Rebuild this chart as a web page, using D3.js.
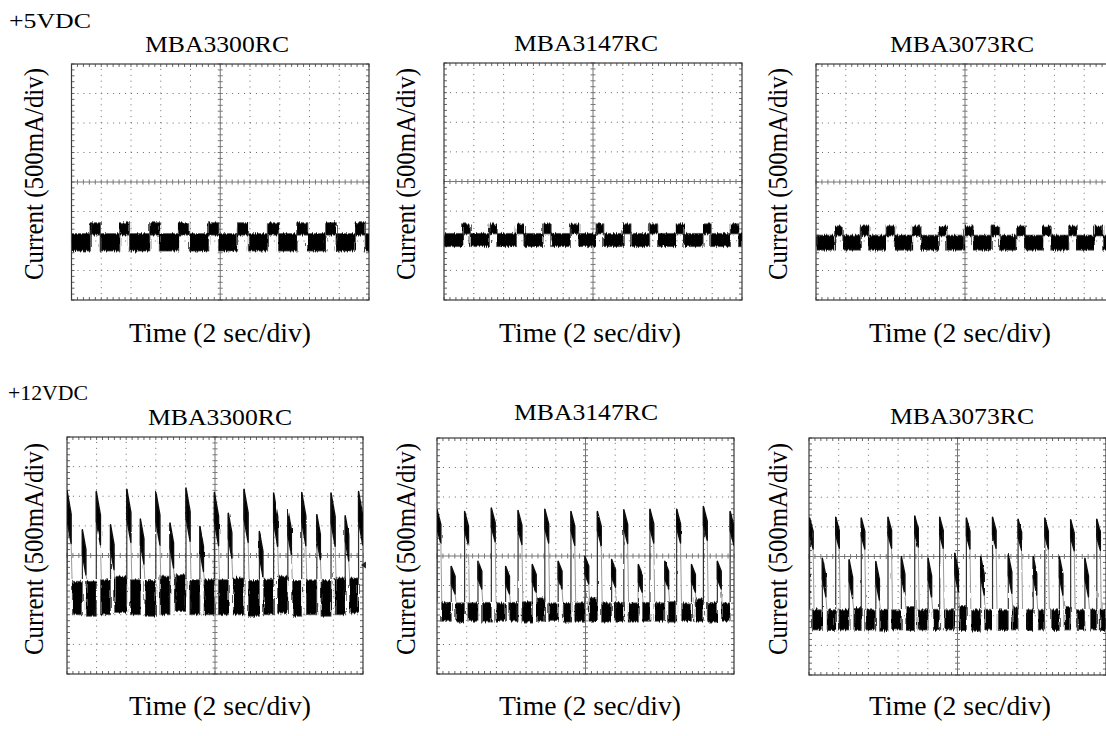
<!DOCTYPE html>
<html><head><meta charset="utf-8">
<script src="https://cdn.jsdelivr.net/npm/d3@7"></script>
<style>
body{margin:0;background:#fff}
svg{display:block}
text{font-family:"Liberation Serif","Times New Roman",serif;fill:#000}
</style>
</head><body>
<svg id="c" width="1106" height="736"></svg>
<script>
// ---------------- DATA ----------------
const supplies = ["+5VDC", "+12VDC"];
const models = ["MBA3300RC", "MBA3147RC", "MBA3073RC"];
const xLabel = "Time (2 sec/div)";
const yLabel = "Current (500mA/div)";
const xDivs = 10, yDivs = 8; // 2 s/div, 500 mA/div

// +5VDC traces (time in div, level in div above bottom graticule)
const v5_3300_highStart = [0.62,1.61,2.62,3.59,4.60,5.57,6.58,7.57,8.54,9.53];
const v5_3300_highEnd   = [0.96,1.94,2.95,3.96,4.94,5.94,6.95,7.93,8.89,9.87];
const v5_3300_low  = [1.66, 2.25];
const v5_3300_high = [2.20, 2.62];

const v5_3147_highStart = [0.62,1.51,2.42,3.31,4.23,5.10,6.00,6.89,7.79,8.68,9.60];
const v5_3147_highEnd   = [0.87,1.77,2.68,3.58,4.51,5.35,6.26,7.16,8.05,8.95,9.88];
const v5_3147_low  = [1.80, 2.25];
const v5_3147_high = [2.23, 2.57];

const v5_3073_highStart = [0.62,1.48,2.35,3.23,4.10,4.98,5.87,6.73,7.60,8.47,9.33];
const v5_3073_highEnd   = [0.90,1.76,2.63,3.51,4.38,5.26,6.15,7.01,7.88,8.75,9.61];
const v5_3073_low  = [1.69, 2.20];
const v5_3073_high = [2.17, 2.51];

// +12VDC traces
const v12_3300_tallT    = [0.00,0.99,2.02,3.00,4.02,4.98,5.98,6.98,7.93,8.92,9.85];
const v12_3300_tallPeak = [6.20,6.16,6.24,6.16,6.28,6.13,6.24,6.11,6.13,6.11,6.16];
const v12_3300_secT     = [0.52,1.47,2.48,3.48,4.49,5.45,6.50,7.46,8.44,9.40];
const v12_3300_secPeak  = [4.87,5.04,5.23,5.10,4.98,5.43,4.81,5.55,5.38,5.34];
const v12_3300_bandStart = [0.18,0.65,1.13,1.61,2.14,2.63,3.14,3.65,4.15,4.63,5.11,5.62,6.13,6.64,7.11,7.62,8.08,8.58,9.06,9.55];
const v12_3300_bandEnd   = [0.52,0.99,1.47,2.02,2.48,3.00,3.48,4.02,4.49,4.98,5.45,5.98,6.50,6.98,7.46,7.93,8.44,8.92,9.40,9.85];
const v12_3300_bandTop   = [3.13,3.13,3.18,3.30,3.18,3.16,3.30,3.35,3.18,3.18,3.18,3.24,3.16,3.20,3.30,3.16,3.18,3.16,3.24,3.24];
const v12_3300_bandBot   = [2.00,1.95,2.00,2.08,2.00,1.95,2.00,2.11,2.00,2.00,2.00,2.00,1.95,2.00,2.06,1.95,2.00,1.95,2.00,2.06];

const v12_3147_tallT    = [0.00,0.93,1.83,2.73,3.63,4.51,5.40,6.29,7.17,8.07,8.97,9.87];
const v12_3147_tallPeak = [5.57,5.51,5.63,5.54,5.59,5.51,5.51,5.57,5.59,5.59,5.68,5.51];
const v12_3147_secT     = [0.48,1.38,2.31,3.21,4.08,4.98,5.88,6.78,7.67,8.57,9.44];
const v12_3147_secPeak  = [3.65,3.82,3.65,3.71,3.82,3.99,3.88,3.71,3.82,3.71,3.82];
const v12_3147_bandStart = [0.15,0.63,1.04,1.53,1.98,2.45,2.86,3.35,3.76,4.25,4.64,5.12,5.54,5.99,6.44,6.92,7.34,7.79,8.24,8.69,9.10,9.58];
const v12_3147_bandEnd   = [0.48,0.93,1.38,1.83,2.31,2.73,3.21,3.63,4.08,4.51,4.98,5.40,5.88,6.29,6.78,7.17,7.67,8.07,8.57,8.97,9.44,9.87];
const v12_3147_bandTop   = [2.43,2.41,2.41,2.43,2.41,2.43,2.45,2.58,2.41,2.43,2.41,2.58,2.41,2.43,2.41,2.43,2.41,2.45,2.41,2.55,2.43,2.41];
const v12_3147_bandBot   = [1.79,1.76,1.79,1.76,1.79,1.79,1.76,1.79,1.82,1.76,1.79,1.79,1.76,1.79,1.76,1.79,1.79,1.76,1.79,1.79,1.76,1.79];

const v12_3073_tallT    = [0.02,0.90,1.76,2.66,3.56,4.40,5.30,6.18,7.04,7.94,8.81,9.69];
const v12_3073_tallPeak = [5.30,5.33,5.30,5.33,5.37,5.33,5.30,5.33,5.26,5.30,5.24,5.26];
const v12_3073_secT     = [0.45,1.35,2.25,3.11,4.01,4.91,5.78,6.71,7.55,8.43,9.29];
const v12_3073_secPeak  = [3.94,3.89,3.83,4.00,3.94,4.11,4.00,4.06,4.00,4.00,3.94];
const v12_3073_bandStart = [0.11,0.61,1.01,1.51,1.91,2.38,2.78,3.26,3.67,4.18,4.57,5.06,5.47,5.92,6.37,6.85,7.33,7.72,8.17,8.62,9.03,9.48,9.80];
const v12_3073_bandEnd   = [0.45,0.90,1.35,1.76,2.25,2.66,3.11,3.56,4.01,4.40,4.91,5.30,5.78,6.18,6.71,7.04,7.55,7.94,8.43,8.81,9.29,9.69,10.0];
const v12_3073_bandTop   = [2.20,2.20,2.22,2.28,2.20,2.22,2.20,2.31,2.20,2.22,2.20,2.31,2.20,2.22,2.20,2.30,2.20,2.22,2.20,2.31,2.20,2.22,2.20];
const v12_3073_bandBot   = [1.52,1.50,1.52,1.50,1.52,1.48,1.52,1.50,1.52,1.50,1.52,1.50,1.48,1.52,1.50,1.52,1.50,1.52,1.50,1.52,1.50,1.52,1.50];

// spike shapes per trace: [duration, drop, thickness] in div
const v12_3300_tallShape = [0.14, 0.80, 1.00], v12_3300_secShape = [0.12, 0.67, 0.85];
const v12_3147_tallShape = [0.13, 0.50, 0.65], v12_3147_secShape = [0.13, 0.34, 0.60];
const v12_3073_tallShape = [0.12, 0.45, 0.60], v12_3073_secShape = [0.12, 0.60, 0.70];

// ---------------- LAYOUT ----------------
const panels = [
  {left:71.5, right:369, top:64, bottom:300},
  {left:444, right:742, top:63, bottom:300},
  {left:816, right:1114, top:64, bottom:300},
  {left:67, right:363, top:437, bottom:674},
  {left:437, right:734, top:438, bottom:674},
  {left:809, right:1106, top:438, bottom:675}
];

const svg = d3.select("#c");
const defs = svg.append("defs");
function addNoise(id, freq, scale, seed) {
  const f = defs.append("filter").attr("id", id)
    .attr("x","-5%").attr("y","-20%").attr("width","110%").attr("height","140%");
  f.append("feTurbulence").attr("type","fractalNoise").attr("baseFrequency", freq)
    .attr("numOctaves",2).attr("seed",seed).attr("result","t");
  f.append("feDisplacementMap").attr("in","SourceGraphic").attr("in2","t")
    .attr("scale",scale).attr("xChannelSelector","R").attr("yChannelSelector","G");
}
addNoise("noise", "0.9 0.06", 5, 4);
addNoise("noise2", "0.5 0.05", 2, 7);

function drawGrid(p, i) {
  const x = d3.scaleLinear().domain([0, xDivs]).range([p.left, p.right]);
  const y = d3.scaleLinear().domain([0, yDivs]).range([p.bottom, p.top]);
  const g = svg.append("g");
  const dx = x(0.2) - x(0), dy = y(0) - y(0.2);
  d3.range(1, xDivs).filter(k => k !== xDivs/2).forEach(k => {
    g.append("line").attr("x1", x(k)).attr("x2", x(k)).attr("y1", y(0)).attr("y2", y(yDivs))
      .attr("stroke","#6a6a6a").attr("stroke-width",1).attr("stroke-dasharray",`1 ${dy-1}`);
  });
  d3.range(1, yDivs).filter(k => k !== yDivs/2).forEach(k => {
    g.append("line").attr("y1", y(k)).attr("y2", y(k)).attr("x1", x(0)).attr("x2", x(xDivs))
      .attr("stroke","#6a6a6a").attr("stroke-width",1).attr("stroke-dasharray",`1 ${dx-1}`);
  });
  g.append("line").attr("x1", x(xDivs/2)).attr("x2", x(xDivs/2)).attr("y1", y(0)).attr("y2", y(yDivs))
    .attr("stroke","#777").attr("stroke-width",1);
  g.append("line").attr("y1", y(yDivs/2)).attr("y2", y(yDivs/2)).attr("x1", x(0)).attr("x2", x(xDivs))
    .attr("stroke","#777").attr("stroke-width",1);
  d3.range(0, yDivs*5+1).forEach(k => {
    const yy = y(k/5);
    g.append("line").attr("x1", x(xDivs/2)-2.5).attr("x2", x(xDivs/2)+2.5).attr("y1", yy).attr("y2", yy).attr("stroke","#777");
    g.append("line").attr("x1", x(0)).attr("x2", x(0)+3).attr("y1", yy).attr("y2", yy).attr("stroke","#666");
    g.append("line").attr("x1", x(xDivs)-3).attr("x2", x(xDivs)).attr("y1", yy).attr("y2", yy).attr("stroke","#666");
  });
  d3.range(0, xDivs*5+1).forEach(k => {
    const xx = x(k/5);
    g.append("line").attr("y1", y(yDivs/2)-2.5).attr("y2", y(yDivs/2)+2.5).attr("x1", xx).attr("x2", xx).attr("stroke","#777");
    g.append("line").attr("y1", y(0)).attr("y2", y(0)-3).attr("x1", xx).attr("x2", xx).attr("stroke","#666");
    g.append("line").attr("y1", y(yDivs)).attr("y2", y(yDivs)+3).attr("x1", xx).attr("x2", xx).attr("stroke","#666");
  });
  g.append("rect").attr("x", x(0)).attr("y", y(yDivs)).attr("width", x(xDivs)-x(0)).attr("height", y(0)-y(yDivs))
    .attr("fill","none").attr("stroke","#3a3a3a").attr("stroke-width",1.2);
  defs.append("clipPath").attr("id","clip"+i).append("rect")
    .attr("x", x(0)).attr("y", y(yDivs)).attr("width", x(xDivs)-x(0)).attr("height", y(0)-y(yDivs));
  const cg = svg.append("g").attr("clip-path", `url(#clip${i})`);
  const tg = cg.append("g").attr("filter","url(#noise)");
  const sg = cg.append("g").attr("filter","url(#noise2)");
  return {x, y, tg, sg};
}

function draw5V(ctx, hs, he, low, high) {
  const {x, y, tg} = ctx;
  const segs = [];
  let t = 0;
  hs.forEach((s, k) => {
    segs.push([t, s, low[0], low[1]]);
    segs.push([s, he[k], high[0], high[1]]);
    t = he[k];
  });
  segs.push([t, xDivs, low[0], low[1]]);
  tg.selectAll(null).data(segs).join("rect")
    .attr("x", d => x(d[0])).attr("width", d => x(d[1]) - x(d[0]) + 0.5)
    .attr("y", d => y(d[3])).attr("height", d => y(d[2]) - y(d[3]))
    .attr("fill","#000").attr("stroke","#555").attr("stroke-width",0.8);
}

function draw12V(ctx, tallT, tallPk, secT, secPk, bs, be, bt, bb, tallShape, secShape) {
  const {x, y, tg, sg} = ctx;
  const segs = bs.map((s, k) => [s, be[k], bb[k], bt[k]]);
  tg.selectAll(null).data(segs).join("rect")
    .attr("x", d => x(d[0])).attr("width", d => x(d[1]) - x(d[0]))
    .attr("y", d => y(d[3])).attr("height", d => y(d[2]) - y(d[3]))
    .attr("fill","#000").attr("stroke","#555").attr("stroke-width",0.8);
  const base = d3.mean(bt);
  const line = d3.line().x(d => x(d[0])).y(d => y(d[1]));
  function spikes(ts, pks, shape) {
    const [dur, drop, th] = shape;
    ts.forEach((t, k) => {
      const pk = pks[k];
      sg.append("path").attr("d", line([[t, base], [t, pk]])).attr("stroke","#333").attr("stroke-width",1.2);
      sg.append("path").attr("d", line([[t + dur, pk - drop - th], [t + dur + 0.03, base]])).attr("stroke","#999").attr("stroke-width",1);
      const pts = [[t, pk], [t + dur, pk - drop], [t + dur, pk - drop - th], [t, pk - th]];
      sg.append("path").attr("d", line(pts) + "Z").attr("fill","#000").attr("stroke","#111")
        .attr("stroke-width",1.4).attr("stroke-linejoin","round");
    });
  }
  spikes(tallT, tallPk, tallShape);
  spikes(secT, secPk, secShape);
}

const ctxs = panels.map((p, i) => drawGrid(p, i));
draw5V(ctxs[0], v5_3300_highStart, v5_3300_highEnd, v5_3300_low, v5_3300_high);
draw5V(ctxs[1], v5_3147_highStart, v5_3147_highEnd, v5_3147_low, v5_3147_high);
draw5V(ctxs[2], v5_3073_highStart, v5_3073_highEnd, v5_3073_low, v5_3073_high);
draw12V(ctxs[3], v12_3300_tallT, v12_3300_tallPeak, v12_3300_secT, v12_3300_secPeak,
  v12_3300_bandStart, v12_3300_bandEnd, v12_3300_bandTop, v12_3300_bandBot, v12_3300_tallShape, v12_3300_secShape);
draw12V(ctxs[4], v12_3147_tallT, v12_3147_tallPeak, v12_3147_secT, v12_3147_secPeak,
  v12_3147_bandStart, v12_3147_bandEnd, v12_3147_bandTop, v12_3147_bandBot, v12_3147_tallShape, v12_3147_secShape);
draw12V(ctxs[5], v12_3073_tallT, v12_3073_tallPeak, v12_3073_secT, v12_3073_secPeak,
  v12_3073_bandStart, v12_3073_bandEnd, v12_3073_bandTop, v12_3073_bandBot, v12_3073_tallShape, v12_3073_secShape);

// ground marker on 12V MBA3300RC
{
  const {x, y} = ctxs[3];
  svg.append("path").attr("d", `M${x(9.93)},${y(3.68)} l5,-3.5 l0,7 Z`).attr("fill","#222");
}

// ---------------- TEXT ----------------
svg.append("text").attr("x", 9).attr("y", 28).attr("font-size", 22).attr("textLength", 82).attr("lengthAdjust","spacingAndGlyphs").text(supplies[0]);
svg.append("text").attr("x", 8).attr("y", 400).attr("font-size", 22).attr("textLength", 80).attr("lengthAdjust","spacingAndGlyphs").text(supplies[1]);

const titlePos = [[217,52],[586,51],[962,52],[220,425],[586,420],[962,424]];
titlePos.forEach((tp, i) => {
  svg.append("text").attr("x", tp[0]).attr("y", tp[1]).attr("text-anchor","middle")
    .attr("font-size", 24).attr("textLength", 144).attr("lengthAdjust","spacingAndGlyphs").text(models[i % 3]);
});
const xlPos = [[220,342],[590,342],[960,342],[220,715],[590,715],[960,715]];
xlPos.forEach(tp => {
  svg.append("text").attr("x", tp[0]).attr("y", tp[1]).attr("text-anchor","middle")
    .attr("font-size", 28).attr("textLength", 182).attr("lengthAdjust","spacingAndGlyphs").text(xLabel);
});
const ylPos = [[43,174],[415,174],[787,174],[43,549],[415,549],[787,549]];
ylPos.forEach(tp => {
  svg.append("text").attr("transform", `translate(${tp[0]},${tp[1]}) rotate(-90)`).attr("text-anchor","middle")
    .attr("font-size", 27).attr("textLength", 212).attr("lengthAdjust","spacingAndGlyphs").text(yLabel);
});
</script>
</body></html>
